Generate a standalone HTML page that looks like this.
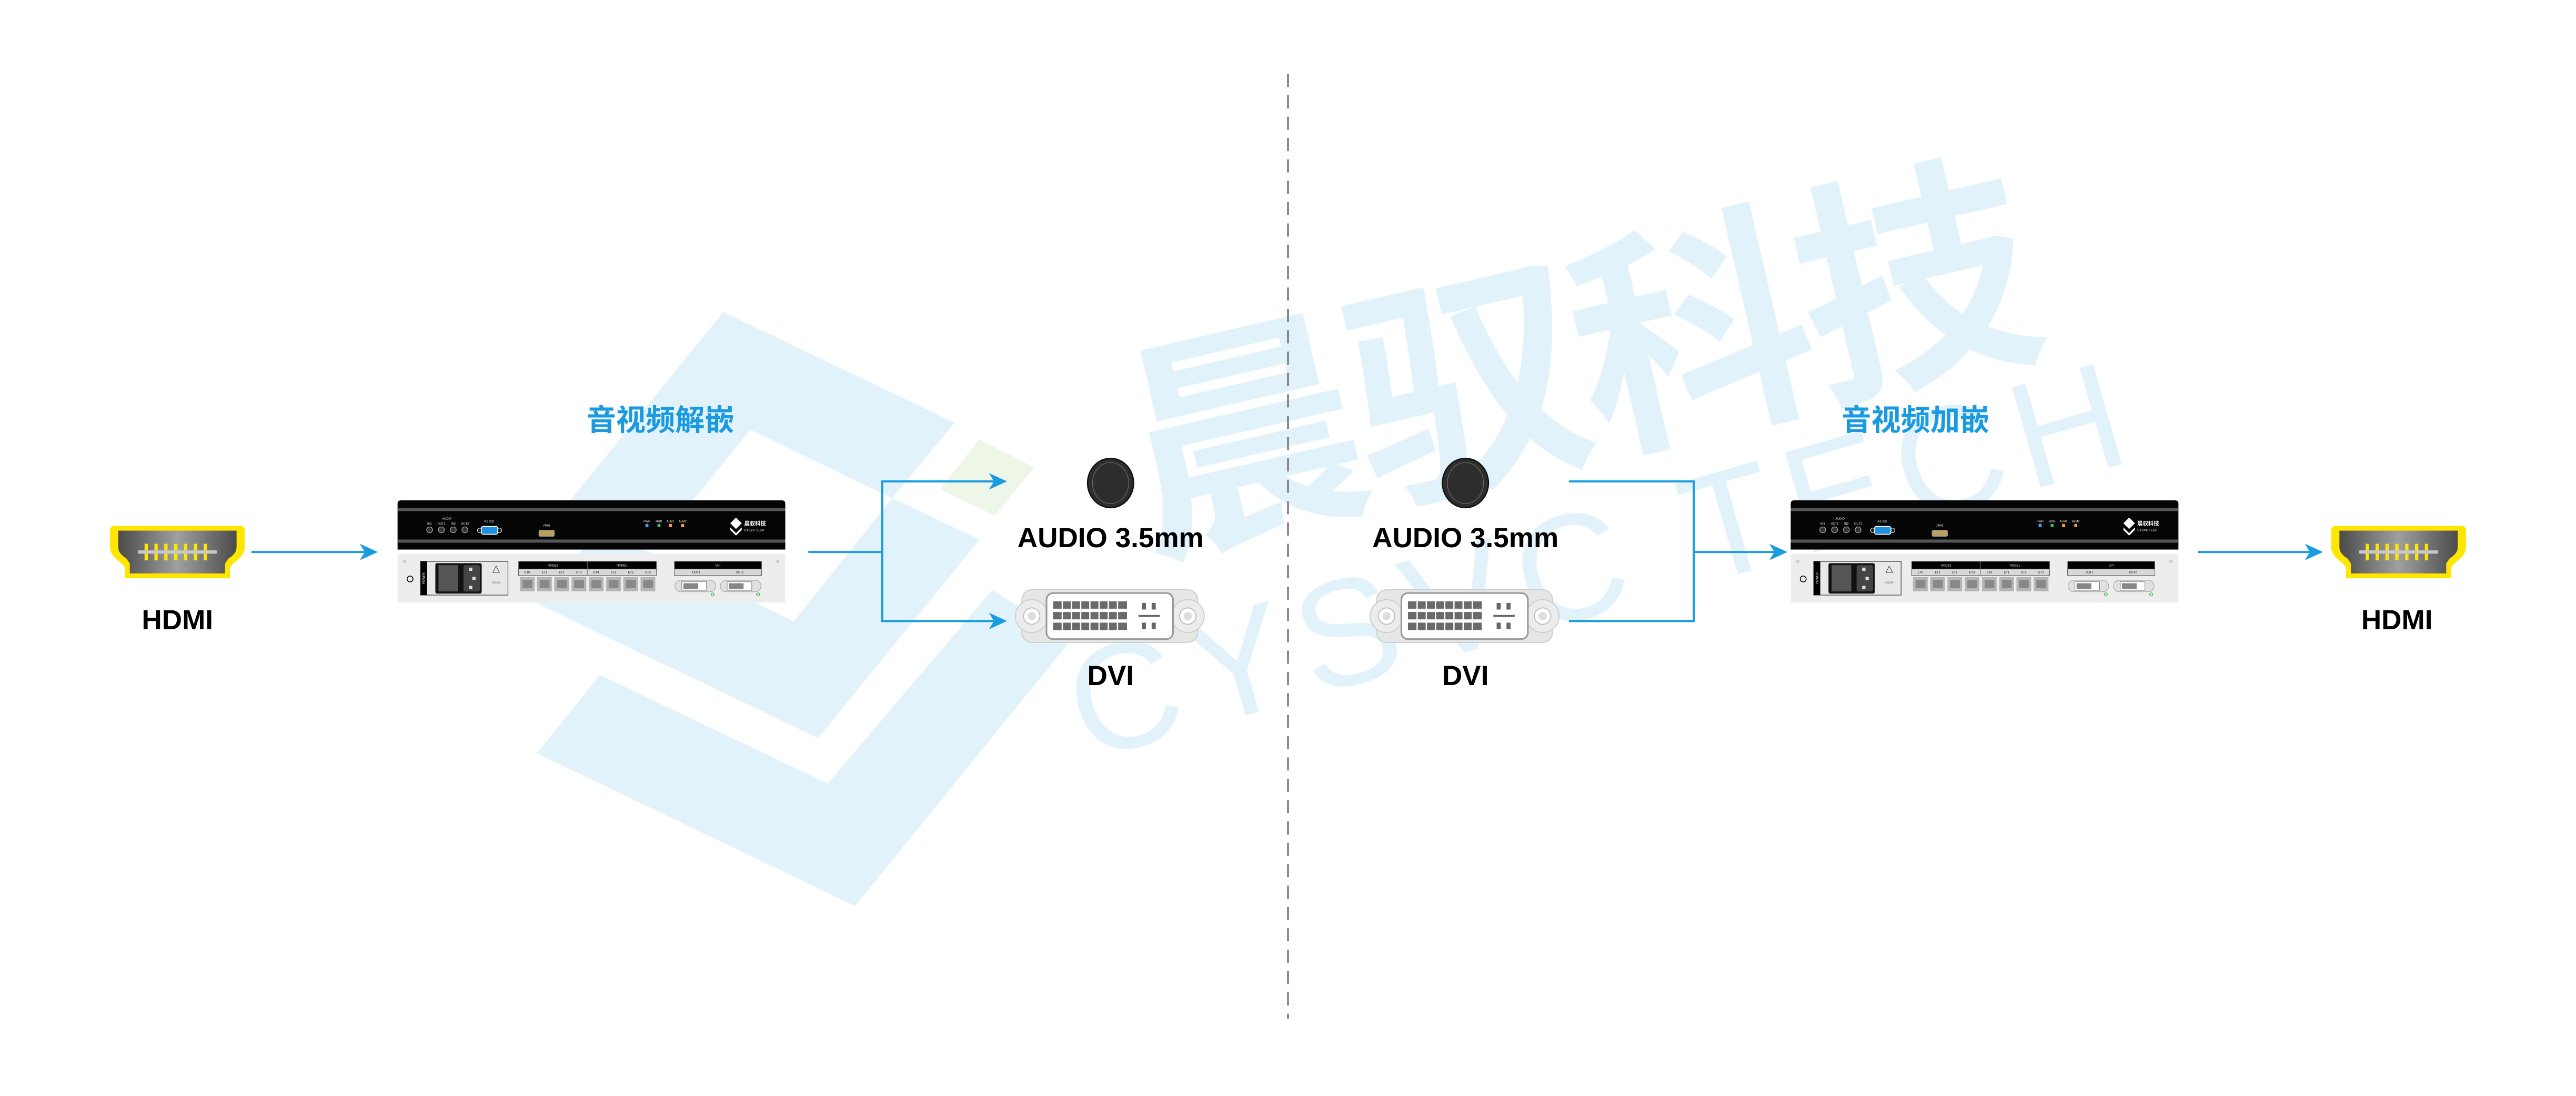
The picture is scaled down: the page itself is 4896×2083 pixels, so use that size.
<!DOCTYPE html>
<html><head><meta charset="utf-8"><style>html,body{margin:0;padding:0;background:#fff}svg{display:block}</style></head><body>
<svg xmlns="http://www.w3.org/2000/svg" width="4896" height="2083" viewBox="0 0 1568 667.1">
<defs>
<linearGradient id="hg" x1="0" x2="1" y1="0" y2="0"><stop offset="0" stop-color="#4a4a4a"/><stop offset="0.5" stop-color="#a0a0a0"/><stop offset="1" stop-color="#4a4a4a"/></linearGradient>
</defs>
<rect width="1568" height="667.1" fill="#fff"/>
<!-- watermark logo -->
<g fill="#e2f2fb">
<polygon points="440.3,189.9 581.1,257.3 543.1,303.2 456.8,261.6 401,330 326.4,330"/>
<polygon points="326.7,367.2 498,449.3 596.2,328.5 543.1,303.2 483.3,378.1 365.2,321.6"/>
<polygon points="326.7,458.5 520.5,551.5 652,389.5 604,359 503.8,477 365.2,410.8"/>
</g>
<polygon points="596,267.4 629.4,284.6 605.5,313.9 572.3,297.9" fill="#eef6e8"/>
<text x="960" y="272" transform="rotate(-13 960 222)" text-anchor="middle" font-family="'Liberation Sans','Noto Sans CJK SC',sans-serif" font-weight="bold" font-size="145" letter-spacing="-5" fill="#e2f2fb">晨驭科技</text>
<text x="975" y="372" transform="rotate(-16 975 340)" text-anchor="middle" font-family="'Liberation Sans',sans-serif" font-size="92" letter-spacing="8" fill="#e2f2fb">CYSVC TECH</text>

<!-- dashed divider -->
<line x1="784" y1="45" x2="784" y2="620" stroke="#8a8a8a" stroke-width="1.3" stroke-dasharray="8,5"/>

<!-- titles -->
<g font-family="'Liberation Sans','Noto Sans CJK SC',sans-serif" font-weight="bold" font-size="18" fill="#1a9be0" text-anchor="middle">
<text x="402" y="262">音视频解嵌</text>
<text x="1166" y="262">音视频加嵌</text>
</g>

<!-- labels -->
<g font-family="'Liberation Sans',sans-serif" font-weight="bold" font-size="17" fill="#000" text-anchor="middle">
<text x="108" y="383">HDMI</text>
<text x="1459" y="383">HDMI</text>
<text x="676" y="333">AUDIO 3.5mm</text>
<text x="892" y="333">AUDIO 3.5mm</text>
<text x="676" y="417">DVI</text>
<text x="892" y="417">DVI</text>
</g>

<!-- connectors -->
<g stroke="#1a9de0" stroke-width="1.3" fill="none">
<line x1="153" y1="336" x2="224" y2="336"/>
<polyline points="492,336 537,336"/>
<polyline points="607,293 537,293 537,378 607,378"/>
<polyline points="955,293 1031,293 1031,378 955,378"/>
<line x1="1031" y1="336" x2="1082" y2="336"/>
<line x1="1338" y1="336" x2="1408" y2="336"/>
</g>
<g fill="#1a9de0">
<path d="M230,336 L219,331 L222,336 L219,341Z"/>
<path d="M613,293 L602,288 L605,293 L602,298Z"/>
<path d="M613,378 L602,373 L605,378 L602,383Z"/>
<path d="M1088,336 L1077,331 L1080,336 L1077,341Z"/>
<path d="M1414,336 L1403,331 L1406,336 L1403,341Z"/>
</g>

<!-- HDMI icons -->
<g>
<path d="M70,320 H146 Q149,320 149,323 V333 Q149,338 143,342 L140,345 V352 H76 V345 L73,342 Q67,338 67,333 V323 Q67,320 70,320Z" fill="#ffe600"/>
<path d="M72,323 H144 V333 Q144,337 139,340 L137,343 V349 H79 V343 L77,340 Q72,337 72,333Z" fill="url(#hg)"/>
<rect x="84" y="335" width="48" height="2" fill="#c8c8c8"/>
<g fill="#ffe600"><rect x="88" y="331" width="2" height="4"/><rect x="94" y="331" width="2" height="4"/><rect x="100" y="331" width="2" height="4"/><rect x="106" y="331" width="2" height="4"/><rect x="112" y="331" width="2" height="4"/><rect x="118" y="331" width="2" height="4"/><rect x="124" y="331" width="2" height="4"/>
<rect x="88" y="337" width="2" height="4"/><rect x="94" y="337" width="2" height="4"/><rect x="100" y="337" width="2" height="4"/><rect x="106" y="337" width="2" height="4"/><rect x="112" y="337" width="2" height="4"/><rect x="118" y="337" width="2" height="4"/><rect x="124" y="337" width="2" height="4"/></g>
</g>
<g transform="translate(1352,0)">
<path d="M70,320 H146 Q149,320 149,323 V333 Q149,338 143,342 L140,345 V352 H76 V345 L73,342 Q67,338 67,333 V323 Q67,320 70,320Z" fill="#ffe600"/>
<path d="M72,323 H144 V333 Q144,337 139,340 L137,343 V349 H79 V343 L77,340 Q72,337 72,333Z" fill="url(#hg)"/>
<rect x="84" y="335" width="48" height="2" fill="#c8c8c8"/>
<g fill="#ffe600"><rect x="88" y="331" width="2" height="4"/><rect x="94" y="331" width="2" height="4"/><rect x="100" y="331" width="2" height="4"/><rect x="106" y="331" width="2" height="4"/><rect x="112" y="331" width="2" height="4"/><rect x="118" y="331" width="2" height="4"/><rect x="124" y="331" width="2" height="4"/>
<rect x="88" y="337" width="2" height="4"/><rect x="94" y="337" width="2" height="4"/><rect x="100" y="337" width="2" height="4"/><rect x="106" y="337" width="2" height="4"/><rect x="112" y="337" width="2" height="4"/><rect x="118" y="337" width="2" height="4"/><rect x="124" y="337" width="2" height="4"/></g>
</g>

<!-- audio jacks -->
<ellipse cx="676" cy="294" rx="14" ry="15" fill="#2d2d2d" stroke="#111" stroke-width="0.8"/>
<ellipse cx="676" cy="294" rx="11" ry="12.5" fill="none" stroke="#6a6a6a" stroke-width="0.4"/>
<ellipse cx="892" cy="294" rx="14" ry="15" fill="#2d2d2d" stroke="#111" stroke-width="0.8"/>
<ellipse cx="892" cy="294" rx="11" ry="12.5" fill="none" stroke="#6a6a6a" stroke-width="0.4"/>

<!-- DVI connectors -->
<g>
<rect x="622" y="359" width="107" height="32" rx="6" fill="#e6e6e6" stroke="#ccc" stroke-width="0.6"/>
<circle cx="628" cy="375" r="10" fill="#ececec" stroke="#ccc" stroke-width="0.6"/>
<circle cx="723" cy="375" r="10" fill="#ececec" stroke="#ccc" stroke-width="0.6"/>
<circle cx="628" cy="375" r="5" fill="#fff" stroke="#bbb" stroke-width="0.6"/><circle cx="628" cy="375" r="2.5" fill="#ddd"/>
<circle cx="723" cy="375" r="5" fill="#fff" stroke="#bbb" stroke-width="0.6"/><circle cx="723" cy="375" r="2.5" fill="#ddd"/>
<rect x="637" y="361" width="77" height="28" rx="4" fill="#fff" stroke="#999" stroke-width="1"/>
<g fill="#6a6a6a">
<rect x="641" y="366" width="45" height="4.5"/><rect x="641" y="372.5" width="45" height="4.5"/><rect x="641" y="379" width="45" height="4.5"/>
</g>
<g stroke="#fff" stroke-width="0.8"><line x1="646.6" y1="365" x2="646.6" y2="384"/><line x1="652.2" y1="365" x2="652.2" y2="384"/><line x1="657.8" y1="365" x2="657.8" y2="384"/><line x1="663.4" y1="365" x2="663.4" y2="384"/><line x1="669" y1="365" x2="669" y2="384"/><line x1="674.6" y1="365" x2="674.6" y2="384"/><line x1="680.2" y1="365" x2="680.2" y2="384"/></g>
<g fill="#666"><rect x="695" y="367" width="2.5" height="4"/><rect x="701" y="367" width="2.5" height="4"/><rect x="695" y="379" width="2.5" height="4"/><rect x="701" y="379" width="2.5" height="4"/><rect x="693" y="374.3" width="13" height="1.2"/></g>
</g>
<g transform="translate(216,0)">
<rect x="622" y="359" width="107" height="32" rx="6" fill="#e6e6e6" stroke="#ccc" stroke-width="0.6"/>
<circle cx="628" cy="375" r="10" fill="#ececec" stroke="#ccc" stroke-width="0.6"/>
<circle cx="723" cy="375" r="10" fill="#ececec" stroke="#ccc" stroke-width="0.6"/>
<circle cx="628" cy="375" r="5" fill="#fff" stroke="#bbb" stroke-width="0.6"/><circle cx="628" cy="375" r="2.5" fill="#ddd"/>
<circle cx="723" cy="375" r="5" fill="#fff" stroke="#bbb" stroke-width="0.6"/><circle cx="723" cy="375" r="2.5" fill="#ddd"/>
<rect x="637" y="361" width="77" height="28" rx="4" fill="#fff" stroke="#999" stroke-width="1"/>
<g fill="#6a6a6a">
<rect x="641" y="366" width="45" height="4.5"/><rect x="641" y="372.5" width="45" height="4.5"/><rect x="641" y="379" width="45" height="4.5"/>
</g>
<g stroke="#fff" stroke-width="0.8"><line x1="646.6" y1="365" x2="646.6" y2="384"/><line x1="652.2" y1="365" x2="652.2" y2="384"/><line x1="657.8" y1="365" x2="657.8" y2="384"/><line x1="663.4" y1="365" x2="663.4" y2="384"/><line x1="669" y1="365" x2="669" y2="384"/><line x1="674.6" y1="365" x2="674.6" y2="384"/><line x1="680.2" y1="365" x2="680.2" y2="384"/></g>
<g fill="#666"><rect x="695" y="367" width="2.5" height="4"/><rect x="701" y="367" width="2.5" height="4"/><rect x="695" y="379" width="2.5" height="4"/><rect x="701" y="379" width="2.5" height="4"/><rect x="693" y="374.3" width="13" height="1.2"/></g>
</g>

<!-- Device left -->
<g transform="translate(242,304.5)" font-family="'Liberation Sans','Noto Sans CJK SC',sans-serif">
<path d="M0,2 Q0,0 2.5,0 H233.5 Q236,0 236,2 V30 H0Z" fill="#050505"/>
<rect x="0" y="4.7" width="236" height="1.9" fill="#555"/>
<rect x="0" y="23.9" width="236" height="1.9" fill="#555"/>
<rect x="0" y="32.6" width="236" height="29.7" fill="#ededed"/>
<g fill="#333" stroke="#aaa" stroke-width="0.4"><circle cx="19.5" cy="18" r="1.8"/><circle cx="26.7" cy="18" r="1.8"/><circle cx="33.9" cy="18" r="1.8"/><circle cx="41" cy="18" r="1.8"/></g>
<g fill="#fff" font-size="1.8" text-anchor="middle"><text x="30" y="11.8">AUDIO</text><text x="19.5" y="14.8">IN1</text><text x="26.7" y="14.8">OUT1</text><text x="33.9" y="14.8">IN2</text><text x="41" y="14.8">OUT2</text><text x="55.8" y="13.6">RS 232</text><text x="90.7" y="16">JTAG</text><text x="151.8" y="13.4">PWR</text><text x="159.1" y="13.4">RUN</text><text x="166.1" y="13.4">ALM1</text><text x="173.5" y="13.4">ALM2</text></g>
<circle cx="50" cy="18.3" r="1.4" fill="#222" stroke="#ddd" stroke-width="0.4"/><circle cx="62" cy="18.3" r="1.4" fill="#222" stroke="#ddd" stroke-width="0.4"/>
<rect x="51" y="15.9" width="10" height="4.8" rx="1.2" fill="#1e90e0" stroke="#fff" stroke-width="0.5"/>
<rect x="86" y="18.2" width="9.5" height="3.8" rx="0.8" fill="#b8a060" stroke="#888" stroke-width="0.3"/>
<rect x="150.9" y="14.4" width="1.8" height="2" fill="#3aa8ec"/><rect x="158.2" y="14.4" width="1.8" height="2" fill="#3cb878"/><rect x="165.2" y="14.4" width="1.8" height="2" fill="#f39a3c"/><rect x="172.6" y="14.4" width="1.8" height="2" fill="#f39a3c"/>
<polygon points="206,10.5 209.5,14 206,17.5 202.5,14" fill="#fff"/><polygon points="202.5,16.5 206,20 209.5,16.5 209.5,18 206,21.5 202.5,18" fill="#fff"/>
<text x="211" y="15.3" font-size="3.3" font-weight="bold" fill="#fff">晨驭科技</text>
<text x="211" y="18.8" font-size="1.9" fill="#fff">CYSVC TECH</text>
<circle cx="4.3" cy="37.2" r="1.1" fill="#ccc"/><circle cx="231.4" cy="37.2" r="1.1" fill="#ccc"/>
<circle cx="7.6" cy="47.9" r="1.8" fill="none" stroke="#000" stroke-width="0.5"/>
<rect x="14" y="37.2" width="53.2" height="20.5" fill="#e8e8e8" stroke="#333" stroke-width="0.4"/>
<rect x="14" y="37.2" width="4" height="20.5" fill="#000"/>
<text x="16.6" y="47.5" font-size="1.9" fill="#fff" text-anchor="middle" transform="rotate(-90 16.6 47.5)">POWER</text>
<rect x="23" y="38.3" width="28.2" height="18.5" rx="1" fill="#111"/>
<rect x="24.9" y="39.5" width="12" height="16" fill="#555"/>
<rect x="40.1" y="39.5" width="10" height="16" rx="1" fill="#444"/>
<g fill="#ddd"><rect x="43.5" y="41" width="2" height="2"/><rect x="45.5" y="46.5" width="2" height="2"/><rect x="43.5" y="52" width="2" height="2"/></g>
<polygon points="60,40 62,44 58,44" fill="none" stroke="#333" stroke-width="0.3"/>
<text x="60" y="50.5" font-size="1.4" fill="#333" text-anchor="middle">AC220V</text>
<rect x="73.6" y="37.2" width="84" height="4.6" fill="#000"/>
<rect x="73.6" y="41.8" width="84" height="4" fill="#d8d8d8" stroke="#555" stroke-width="0.3"/>
<line x1="115.5" y1="37.2" x2="115.5" y2="45.8" stroke="#777" stroke-width="0.3"/>
<g font-size="1.8" text-anchor="middle"><text x="94.5" y="40.3" fill="#fff">NODE2</text><text x="136.5" y="40.3" fill="#fff">NODE1</text>
<text x="78.9" y="44.5">ET0</text><text x="89.4" y="44.5">ET1</text><text x="99.9" y="44.5">ET2</text><text x="110.4" y="44.5">ET3</text><text x="120.9" y="44.5">ET0</text><text x="131.4" y="44.5">ET1</text><text x="141.9" y="44.5">ET2</text><text x="152.4" y="44.5">ET3</text></g>
<g fill="#b5b5b5"><rect x="74.4" y="46.8" width="9" height="8.6"/><rect x="84.9" y="46.8" width="9" height="8.6"/><rect x="95.4" y="46.8" width="9" height="8.6"/><rect x="105.9" y="46.8" width="9" height="8.6"/><rect x="116.4" y="46.8" width="9" height="8.6"/><rect x="126.9" y="46.8" width="9" height="8.6"/><rect x="137.4" y="46.8" width="9" height="8.6"/><rect x="147.9" y="46.8" width="9" height="8.6"/></g>
<g fill="#888"><rect x="76" y="48.5" width="6" height="5"/><rect x="86.5" y="48.5" width="6" height="5"/><rect x="97" y="48.5" width="6" height="5"/><rect x="107.5" y="48.5" width="6" height="5"/><rect x="118" y="48.5" width="6" height="5"/><rect x="128.5" y="48.5" width="6" height="5"/><rect x="139" y="48.5" width="6" height="5"/><rect x="149.5" y="48.5" width="6" height="5"/></g>
<rect x="168.5" y="37.2" width="53.1" height="4.6" fill="#000"/>
<rect x="168.5" y="41.8" width="53.1" height="4" fill="#d8d8d8" stroke="#555" stroke-width="0.3"/>
<g font-size="1.8" text-anchor="middle"><text x="195" y="40.3" fill="#fff">DVI</text><text x="181.8" y="44.5">OUT1</text><text x="208.3" y="44.5">OUT2</text></g>
<rect x="168.8" y="48.7" width="24.8" height="7" rx="3.5" fill="#e0e0e0" stroke="#999" stroke-width="0.3"/><rect x="173" y="49.6" width="15" height="5.2" fill="#fff" stroke="#777" stroke-width="0.3"/><rect x="174" y="50.5" width="9" height="3.4" fill="#888"/>
<rect x="196.4" y="48.7" width="24.8" height="7" rx="3.5" fill="#e0e0e0" stroke="#999" stroke-width="0.3"/><rect x="200.6" y="49.6" width="15" height="5.2" fill="#fff" stroke="#777" stroke-width="0.3"/><rect x="201.6" y="50.5" width="9" height="3.4" fill="#888"/>
<circle cx="191.8" cy="57.3" r="0.9" fill="none" stroke="#3a3" stroke-width="0.4"/><circle cx="219.4" cy="57.3" r="0.9" fill="none" stroke="#3a3" stroke-width="0.4"/>
</g>

<!-- Device right -->
<g transform="translate(1090,304.5)" font-family="'Liberation Sans','Noto Sans CJK SC',sans-serif">
<path d="M0,2 Q0,0 2.5,0 H233.5 Q236,0 236,2 V30 H0Z" fill="#050505"/>
<rect x="0" y="4.7" width="236" height="1.9" fill="#555"/>
<rect x="0" y="23.9" width="236" height="1.9" fill="#555"/>
<rect x="0" y="32.6" width="236" height="29.7" fill="#ededed"/>
<g fill="#333" stroke="#aaa" stroke-width="0.4"><circle cx="19.5" cy="18" r="1.8"/><circle cx="26.7" cy="18" r="1.8"/><circle cx="33.9" cy="18" r="1.8"/><circle cx="41" cy="18" r="1.8"/></g>
<g fill="#fff" font-size="1.8" text-anchor="middle"><text x="30" y="11.8">AUDIO</text><text x="19.5" y="14.8">IN1</text><text x="26.7" y="14.8">OUT1</text><text x="33.9" y="14.8">IN2</text><text x="41" y="14.8">OUT2</text><text x="55.8" y="13.6">RS 232</text><text x="90.7" y="16">JTAG</text><text x="151.8" y="13.4">PWR</text><text x="159.1" y="13.4">RUN</text><text x="166.1" y="13.4">ALM1</text><text x="173.5" y="13.4">ALM2</text></g>
<circle cx="50" cy="18.3" r="1.4" fill="#222" stroke="#ddd" stroke-width="0.4"/><circle cx="62" cy="18.3" r="1.4" fill="#222" stroke="#ddd" stroke-width="0.4"/>
<rect x="51" y="15.9" width="10" height="4.8" rx="1.2" fill="#1e90e0" stroke="#fff" stroke-width="0.5"/>
<rect x="86" y="18.2" width="9.5" height="3.8" rx="0.8" fill="#b8a060" stroke="#888" stroke-width="0.3"/>
<rect x="150.9" y="14.4" width="1.8" height="2" fill="#3aa8ec"/><rect x="158.2" y="14.4" width="1.8" height="2" fill="#3cb878"/><rect x="165.2" y="14.4" width="1.8" height="2" fill="#f39a3c"/><rect x="172.6" y="14.4" width="1.8" height="2" fill="#f39a3c"/>
<polygon points="206,10.5 209.5,14 206,17.5 202.5,14" fill="#fff"/><polygon points="202.5,16.5 206,20 209.5,16.5 209.5,18 206,21.5 202.5,18" fill="#fff"/>
<text x="211" y="15.3" font-size="3.3" font-weight="bold" fill="#fff">晨驭科技</text>
<text x="211" y="18.8" font-size="1.9" fill="#fff">CYSVC TECH</text>
<circle cx="4.3" cy="37.2" r="1.1" fill="#ccc"/><circle cx="231.4" cy="37.2" r="1.1" fill="#ccc"/>
<circle cx="7.6" cy="47.9" r="1.8" fill="none" stroke="#000" stroke-width="0.5"/>
<rect x="14" y="37.2" width="53.2" height="20.5" fill="#e8e8e8" stroke="#333" stroke-width="0.4"/>
<rect x="14" y="37.2" width="4" height="20.5" fill="#000"/>
<text x="16.6" y="47.5" font-size="1.9" fill="#fff" text-anchor="middle" transform="rotate(-90 16.6 47.5)">POWER</text>
<rect x="23" y="38.3" width="28.2" height="18.5" rx="1" fill="#111"/>
<rect x="24.9" y="39.5" width="12" height="16" fill="#555"/>
<rect x="40.1" y="39.5" width="10" height="16" rx="1" fill="#444"/>
<g fill="#ddd"><rect x="43.5" y="41" width="2" height="2"/><rect x="45.5" y="46.5" width="2" height="2"/><rect x="43.5" y="52" width="2" height="2"/></g>
<polygon points="60,40 62,44 58,44" fill="none" stroke="#333" stroke-width="0.3"/>
<text x="60" y="50.5" font-size="1.4" fill="#333" text-anchor="middle">AC220V</text>
<rect x="73.6" y="37.2" width="84" height="4.6" fill="#000"/>
<rect x="73.6" y="41.8" width="84" height="4" fill="#d8d8d8" stroke="#555" stroke-width="0.3"/>
<line x1="115.5" y1="37.2" x2="115.5" y2="45.8" stroke="#777" stroke-width="0.3"/>
<g font-size="1.8" text-anchor="middle"><text x="94.5" y="40.3" fill="#fff">NODE2</text><text x="136.5" y="40.3" fill="#fff">NODE1</text>
<text x="78.9" y="44.5">ET0</text><text x="89.4" y="44.5">ET1</text><text x="99.9" y="44.5">ET2</text><text x="110.4" y="44.5">ET3</text><text x="120.9" y="44.5">ET0</text><text x="131.4" y="44.5">ET1</text><text x="141.9" y="44.5">ET2</text><text x="152.4" y="44.5">ET3</text></g>
<g fill="#b5b5b5"><rect x="74.4" y="46.8" width="9" height="8.6"/><rect x="84.9" y="46.8" width="9" height="8.6"/><rect x="95.4" y="46.8" width="9" height="8.6"/><rect x="105.9" y="46.8" width="9" height="8.6"/><rect x="116.4" y="46.8" width="9" height="8.6"/><rect x="126.9" y="46.8" width="9" height="8.6"/><rect x="137.4" y="46.8" width="9" height="8.6"/><rect x="147.9" y="46.8" width="9" height="8.6"/></g>
<g fill="#888"><rect x="76" y="48.5" width="6" height="5"/><rect x="86.5" y="48.5" width="6" height="5"/><rect x="97" y="48.5" width="6" height="5"/><rect x="107.5" y="48.5" width="6" height="5"/><rect x="118" y="48.5" width="6" height="5"/><rect x="128.5" y="48.5" width="6" height="5"/><rect x="139" y="48.5" width="6" height="5"/><rect x="149.5" y="48.5" width="6" height="5"/></g>
<rect x="168.5" y="37.2" width="53.1" height="4.6" fill="#000"/>
<rect x="168.5" y="41.8" width="53.1" height="4" fill="#d8d8d8" stroke="#555" stroke-width="0.3"/>
<g font-size="1.8" text-anchor="middle"><text x="195" y="40.3" fill="#fff">DVI</text><text x="181.8" y="44.5">OUT1</text><text x="208.3" y="44.5">OUT2</text></g>
<rect x="168.8" y="48.7" width="24.8" height="7" rx="3.5" fill="#e0e0e0" stroke="#999" stroke-width="0.3"/><rect x="173" y="49.6" width="15" height="5.2" fill="#fff" stroke="#777" stroke-width="0.3"/><rect x="174" y="50.5" width="9" height="3.4" fill="#888"/>
<rect x="196.4" y="48.7" width="24.8" height="7" rx="3.5" fill="#e0e0e0" stroke="#999" stroke-width="0.3"/><rect x="200.6" y="49.6" width="15" height="5.2" fill="#fff" stroke="#777" stroke-width="0.3"/><rect x="201.6" y="50.5" width="9" height="3.4" fill="#888"/>
<circle cx="191.8" cy="57.3" r="0.9" fill="none" stroke="#3a3" stroke-width="0.4"/><circle cx="219.4" cy="57.3" r="0.9" fill="none" stroke="#3a3" stroke-width="0.4"/>
</g>
</svg>
</body></html>
